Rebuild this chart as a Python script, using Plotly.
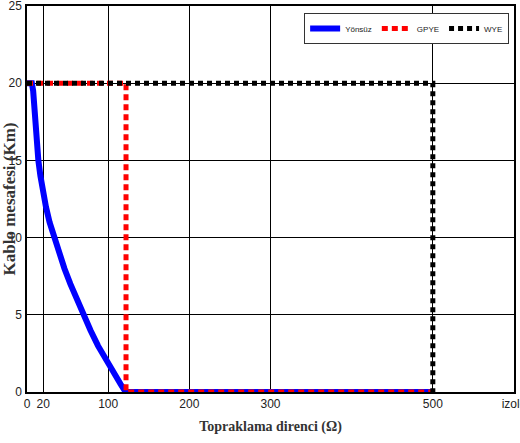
import plotly.graph_objects as go

# Data
blue_x = [0, 6, 7.6, 8.2, 8.7, 9.3, 10.3, 12, 14, 16.5, 19.4, 23.3, 27.8, 33.3, 39.4,
          46.1, 53.4, 61.2, 69.4, 78.2, 87.4, 97.9, 109.4, 115.4, 121.5, 500]
blue_y = [20, 20, 19.5, 19, 18.5, 18, 17, 16, 15, 14, 13, 12, 11, 10, 9,
          8, 7, 6, 5, 4, 3, 2, 1, 0.5, 0, 0]
red_x = [0, 122, 122, 500]
red_y = [20, 20, 0, 0]
black_x = [0, 500, 500]
black_y = [20, 20, 0]

x_ticks = [0, 20, 100, 200, 300, 500, 600]
x_labels = ["0", "20", "100", "200", "300", "500", "izole"]
y_ticks = [0, 5, 10, 15, 20, 25]

fig = go.Figure()
fig.add_trace(go.Scatter(x=blue_x, y=blue_y, mode="lines", name="Yönsüz",
                         line=dict(color="#0000ff", width=6)))
fig.add_trace(go.Scatter(x=red_x, y=red_y, mode="lines", name="GPYE",
                         line=dict(color="#ff0000", width=5, dash="6px,4px")))
fig.add_trace(go.Scatter(x=black_x, y=black_y, mode="lines", name="WYE",
                         line=dict(color="#000000", width=5, dash="5px,4px")))

tickfont = dict(family="Liberation Sans Narrow, Arial Narrow, sans-serif", size=12, color="#222")
xtitlefont = dict(family="Liberation Serif, Times New Roman, serif", size=14, color="#333", weight="bold")
ytitlefont = dict(family="Liberation Serif, Times New Roman, serif", size=17, color="#333", weight="bold")

fig.update_layout(
    width=520, height=443,
    margin=dict(l=27, r=6, t=6, b=51, autoexpand=False),
    plot_bgcolor="white", paper_bgcolor="white",
    showlegend=True,
    legend=dict(orientation="h", x=0.99, y=0.982, xanchor="right", yanchor="top",
                bgcolor="white", bordercolor="#333", borderwidth=1,
                font=dict(family="Liberation Sans Narrow, Arial Narrow, sans-serif", size=8, color="#222"),
                itemwidth=30, tracegroupgap=0),
)
fig.update_xaxes(range=[0, 600], tickvals=x_ticks, ticktext=x_labels, tickfont=tickfont,
                 showgrid=True, gridcolor="black", gridwidth=1,
                 showline=True, linecolor="black", linewidth=1.5, mirror=True,
                 ticks="", zeroline=False, automargin=False, ticklabeloverflow="allow",
                 title=dict(text="Topraklama direnci (Ω)", font=xtitlefont, standoff=11))
fig.update_yaxes(range=[0, 25], tickvals=y_ticks, tickfont=tickfont,
                 showgrid=True, gridcolor="black", gridwidth=1,
                 showline=True, linecolor="black", linewidth=1.5, mirror=True,
                 ticks="", zeroline=False, ticklabelstandoff=1, automargin=False,
                 ticklabeloverflow="allow",
                 title=dict(text="Kablo mesafesi (Km)", font=ytitlefont, standoff=1))

fig.write_html("out.html", config={"displayModeBar": False},
               post_script="document.body.style.margin='0';")
